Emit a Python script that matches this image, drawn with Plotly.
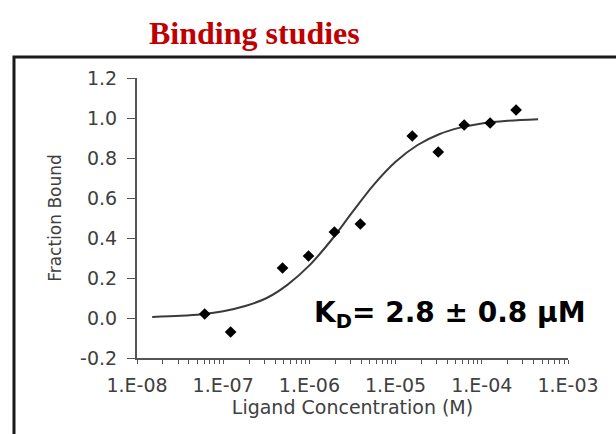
import plotly.graph_objects as go

# Measured data points (ligand concentration in M, fraction bound)
conc_m = [6.1e-8, 1.22e-7, 4.88e-7, 9.77e-7, 1.95e-6, 3.9e-6,
          1.56e-5, 3.125e-5, 6.25e-5, 1.25e-4, 2.5e-4]
fraction_bound = [0.02, -0.07, 0.25, 0.31, 0.43, 0.47,
                  0.91, 0.83, 0.965, 0.975, 1.04]

# Fitted binding curve
fit_conc = [1.5e-8, 3.2e-8, 5.6e-8, 1e-7, 1.8e-7, 3.2e-7, 5.6e-7, 1e-6, 1.8e-6,
            3.2e-6, 5.6e-6, 1e-5, 1.8e-5, 3.2e-5, 5.6e-5, 1e-4, 2e-4, 4.5e-4]
fit_fraction = [0.005, 0.011, 0.019, 0.034, 0.06, 0.10, 0.167, 0.263, 0.39,
                0.533, 0.667, 0.781, 0.865, 0.919, 0.952, 0.973, 0.986, 0.994]

x_tickvals = [1e-8, 1e-7, 1e-6, 1e-5, 1e-4, 1e-3]
x_ticktext = ["1.E-08", "1.E-07", "1.E-06", "1.E-05", "1.E-04", "1.E-03"]
y_tickvals = [-0.2, 0.0, 0.2, 0.4, 0.6, 0.8, 1.0, 1.2]
y_ticktext = ["-0.2", "0.0", "0.2", "0.4", "0.6", "0.8", "1.0", "1.2"]

title_text = "Binding studies"
kd_text = "K<sub>D</sub>= 2.8 ± 0.8 µM"

fig = go.Figure()
fig.add_trace(go.Scatter(x=fit_conc, y=fit_fraction, mode="lines",
                         line=dict(color="#3a3a3a", width=2, shape="spline", smoothing=1.0),
                         hoverinfo="skip", showlegend=False))
fig.add_trace(go.Scatter(x=conc_m, y=fraction_bound, mode="markers",
                         marker=dict(symbol="diamond", size=9, color="black"),
                         showlegend=False))

tick_font = dict(family="DejaVu Sans", size=19, color="#404040")
axis_color = "#555555"

fig.update_layout(
    width=616, height=434,
    margin=dict(l=137, r=48, t=78, b=76),
    paper_bgcolor="white", plot_bgcolor="white",
    xaxis=dict(type="log", range=[-8, -3], tickmode="array",
               tickvals=x_tickvals, ticktext=x_ticktext,
               ticks="outside", ticklen=4, tickcolor=axis_color,
               minor=dict(ticks="outside", ticklen=4, dtick="D1", tickcolor=axis_color,
                          showgrid=False),
               showline=True, linecolor=axis_color, linewidth=2,
               showgrid=False, zeroline=False,
               tickfont=tick_font, ticklabelstandoff=5,
               title=dict(text="Ligand Concentration (M)",
                          font=dict(family="DejaVu Sans", size=19, color="#404040"),
                          standoff=3)),
    yaxis=dict(range=[-0.2, 1.2], tickmode="array",
               tickvals=y_tickvals, ticktext=y_ticktext,
               ticks="outside", ticklen=8, tickcolor=axis_color,
               showline=True, linecolor=axis_color, linewidth=2,
               showgrid=False, zeroline=False,
               tickfont=tick_font, ticklabelstandoff=6,
               title=dict(text="Fraction Bound",
                          font=dict(family="DejaVu Sans", size=17, color="#404040"),
                          standoff=14)),
    annotations=[
        dict(text="<b>" + title_text + "</b>", xref="paper", yref="paper",
             x=0.2715, y=1.16, xanchor="center", yanchor="middle", showarrow=False,
             font=dict(family="Liberation Serif", size=32, color="#C00000")),
        dict(text="<b>" + kd_text + "</b>", xref="paper", yref="paper",
             x=0.406, y=0.157, xanchor="left", yanchor="middle", showarrow=False,
             font=dict(family="DejaVu Sans", size=28, color="black")),
    ],
    shapes=[
        dict(type="path", xref="paper", yref="paper",
             path="M -0.2854,-0.4 L -0.2854,1.075 L 1.3,1.075",
             line=dict(color="#1a1a1a", width=3)),
    ],
)

fig.write_html("out.html")
